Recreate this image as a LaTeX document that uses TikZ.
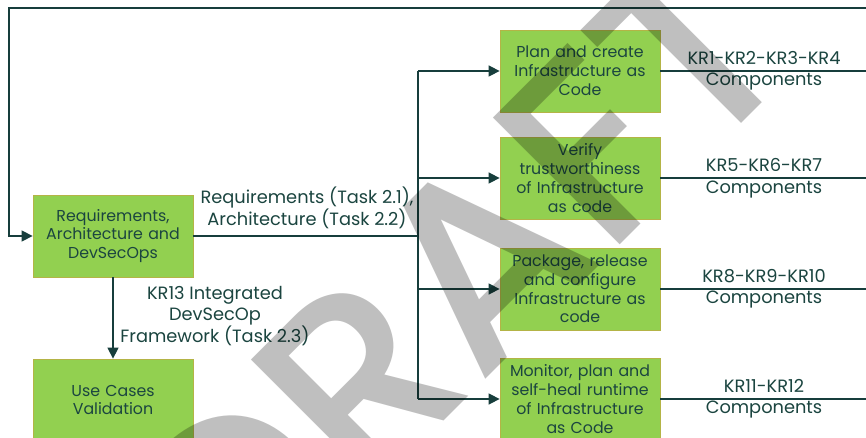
\documentclass[tikz,border=0pt]{standalone}
\usepackage{fontspec}
\setmainfont{Poppins}
\newfontfamily\wmfont{Poppins Medium}
\usetikzlibrary{arrows.meta}
\definecolor{boxfill}{HTML}{92D050}
\definecolor{boxedge}{HTML}{B4B446}
\definecolor{ink}{HTML}{1B4540}
\definecolor{wirec}{HTML}{173E3C}
\begin{document}
\begin{tikzpicture}[x=1pt,y=-1pt,
  box/.style={draw=boxedge, line width=0.8pt, fill=boxfill, minimum width=160pt, minimum height=82pt, align=center, text=ink, font=\fontsize{15.8}{18.8}\selectfont, inner sep=1pt, text width=158pt},
  lbl/.style={text=ink, align=center, font=\fontsize{17.8}{21.5}\selectfont, inner sep=0pt},
  wire/.style={draw=wirec, line width=1.5pt},
  arr/.style={wire, -{Triangle[length=11pt,width=11pt]}}]
\useasboundingbox (0,0) rectangle (866,438);
\fill[white] (0,0) rectangle (866,438);
% boxes
\node[box] (req) at (113,236) {Requirements,\\Architecture and\\DevSecOps};
\node[box] (uc) at (113,400) {Use Cases\\Validation};
\node[box] (b1) at (580,71) {Plan and create\\Infrastructure as\\Code};
\node[box] (b2) at (580,178) {Verify\\trustworthiness\\of Infrastructure\\as code};
\node[box] (b3) at (580,289) {Package, release\\and configure\\Infrastructure as\\code};
\node[box] (b4) at (580,399) {Monitor, plan and\\self-heal runtime\\of Infrastructure\\as Code};
% free ends
\coordinate (loopR) at (866,8);
\coordinate (loopL) at (9,8);
\coordinate (br) at (418,236);
\coordinate (r1) at (866,71);
\coordinate (r2) at (866,178);
\coordinate (r3) at (866,289);
\coordinate (r4) at (866,399);
% connectors
\draw[arr] (loopR) -- (loopL) |- (req.west);
\draw[wire] (req.east) -- (br);
\draw[wire] (br |- b1.west) -- (br |- b4.west);
\draw[arr] (br |- b1.west) -- (b1.west);
\draw[arr] (br |- b2.west) -- (b2.west);
\draw[arr] (br |- b3.west) -- (b3.west);
\draw[arr] (br |- b4.west) -- (b4.west);
\draw[arr] (req.south) -- (uc.north);
\draw[wire] (b1.east) -- (r1);
\draw[wire] (b2.east) -- (r2);
\draw[wire] (b3.east) -- (r3);
\draw[wire] (b4.east) -- (r4);
% labels
\node[lbl] (lreq) at (307,208) {Requirements (Task 2.1),\\Architecture (Task 2.2)};
\node[lbl] (lkr) at (215,316) {KR13 Integrated\\DevSecOp\\Framework (Task 2.3)};
\node[lbl] (k1) at (764,71) {KR1-KR2-KR3-KR4\\Components};
\node[lbl] (k2) at (764,178) {KR5-KR6-KR7\\Components};
\node[lbl] (k3) at (764,289) {KR8-KR9-KR10\\Components};
\node[lbl] (k4) at (764,399) {KR11-KR12\\Components};
% watermark
\node[text=black, text opacity=0.25, rotate=45, inner sep=0pt, font=\fontsize{258}{258}\selectfont\wmfont] (wm) at (456,282) {DRAFT};
\end{tikzpicture}
\end{document}
